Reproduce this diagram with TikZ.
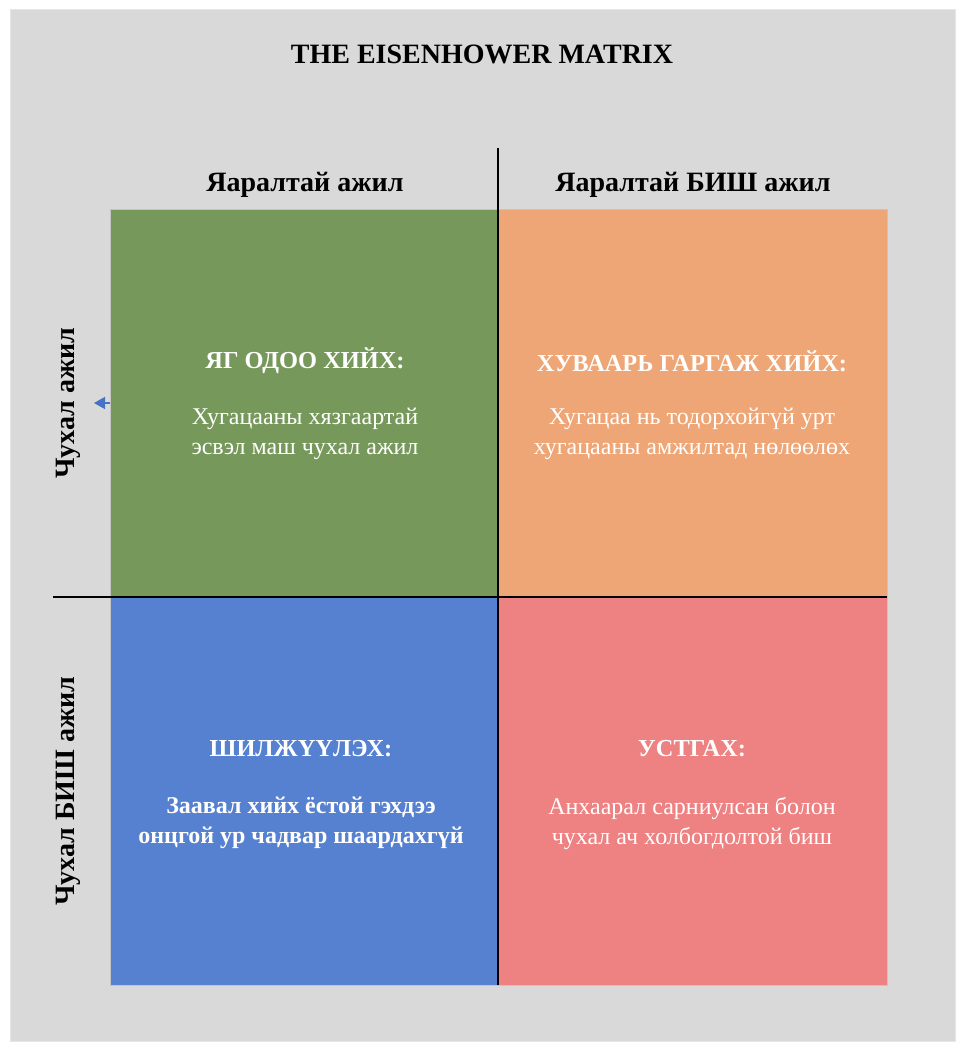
\documentclass[tikz,border=0pt]{standalone}
\usepackage{fontspec}
\setmainfont{Liberation Serif}
\usetikzlibrary{arrows.meta}
\definecolor{bggray}{HTML}{D9D9D9}
\definecolor{bgedge}{HTML}{E6E6E6}
\definecolor{qgreen}{HTML}{76985A}
\definecolor{qorange}{HTML}{EFA676}
\definecolor{qblue}{HTML}{5681D0}
\definecolor{qred}{HTML}{EE8181}
\definecolor{qedge}{HTML}{C4C4C4}
\definecolor{arrowblue}{HTML}{4472C4}
\tikzset{
  quad/.style={draw=qedge, line width=0.8pt},
  axisline/.style={draw=black, line width=2pt},
  bigtitle/.style={font=\bfseries\fontsize{28}{34}\selectfont, text=black, inner sep=0pt},
  qhead/.style={font=\bfseries\fontsize{24.4}{30}\selectfont, text=white, inner sep=0pt},
  qbody/.style={font=\fontsize{24}{30}\selectfont, text=white, inner sep=0pt, align=center},
  qbodyb/.style={font=\bfseries\fontsize{24}{30}\selectfont, text=white, inner sep=0pt, align=center}
}
\begin{document}
\begin{tikzpicture}[x=1pt,y=-1pt]
\useasboundingbox[fill=white] (0,0) rectangle (964,1051);
\fill[bggray, draw=bgedge, line width=1pt] (10,10) rectangle (955,1041);
% quadrants
\path[quad, fill=qgreen] (110,209) rectangle (498,597);
\path[quad, fill=qorange] (498,209) rectangle (887,597);
\path[quad, fill=qblue] (110,597) rectangle (498,985);
\path[quad, fill=qred] (498,597) rectangle (887,985);
% axis lines
\coordinate (vtop) at (498,148);
\coordinate (vbot) at (498,985);
\coordinate (hleft) at (53,597);
\coordinate (hright) at (887,597);
\draw[axisline] (vtop) -- (vbot);
\draw[axisline] (hleft) -- (hright);
% small arrow
\coordinate (arrS) at (110,403);
\coordinate (arrE) at (94,403);
\draw[arrowblue, line width=1.5pt, -{Triangle[length=11pt 0,width=12pt 0]}] (arrS) -- (arrE);
% title and headers
\node[bigtitle] (title) at (482,54) {THE EISENHOWER MATRIX};
\node[bigtitle] (h1) at (305,185) {Яаралтай ажил};
\node[bigtitle] (h2) at (693,185) {Яаралтай БИШ ажил};
\node[bigtitle, rotate=90] (v1) at (68,403) {Чухал ажил};
\node[bigtitle, rotate=90] (v2) at (68,791) {Чухал БИШ ажил};
% quadrant texts
\node[qhead] (q1h) at (305,361) {ЯГ ОДОО ХИЙХ:};
\node[qbody] (q1b) at (305,434) {Хугацааны хязгаартай\\ эсвэл маш чухал ажил};
\node[qhead] (q2h) at (692,361) {ХУВААРЬ ГАРГАЖ ХИЙХ:};
\node[qbody] (q2b) at (692,434) {Хугацаа нь тодорхойгүй урт\\хугацааны амжилтад нөлөөлөх};
\node[qhead] (q3h) at (301,749) {ШИЛЖҮҮЛЭХ:};
\node[qbodyb] (q3b) at (301,823) {Заавал хийх ёстой гэхдээ\\онцгой ур чадвар шаардахгүй};
\node[qhead] (q4h) at (692,749) {УСТГАХ:};
\node[qbody] (q4b) at (692,823) {Анхаарал сарниулсан болон\\чухал ач холбогдолтой биш};
\end{tikzpicture}
\end{document}
